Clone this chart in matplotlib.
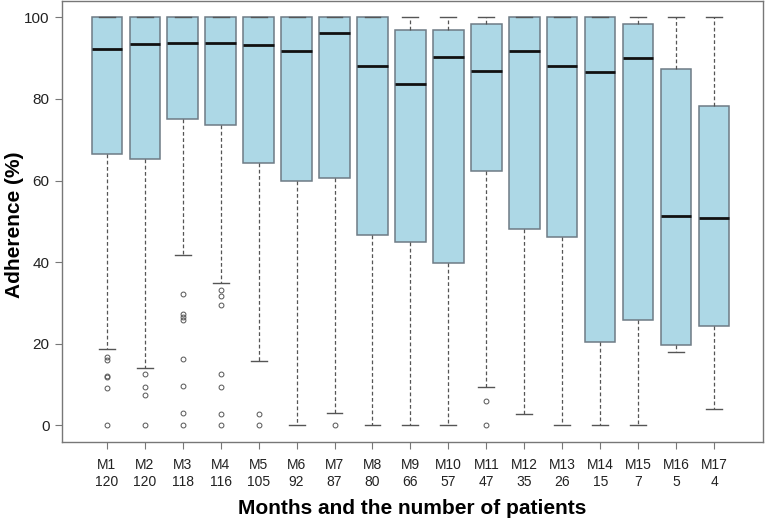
import matplotlib
matplotlib.use("Agg")
import matplotlib.pyplot as plt

plt.rcParams['font.family'] = ['Liberation Sans', 'DejaVu Sans']

months = ["M%d" % i for i in range(1, 18)]
patients = [120, 120, 118, 116, 105, 92, 87, 80, 66, 57, 47, 35, 26, 15, 7, 5, 4]

# (percent)
whislo = [18.6, 14.0, 41.7, 34.8, 15.8, 0, 3.0, 0, 0, 0, 9.4, 2.9, 0, 0, 0, 18.0, 4.1]
q1 = [66.6, 65.4, 75.0, 73.7, 64.4, 59.9, 60.6, 46.6, 45.0, 39.9, 62.3, 48.1, 46.2, 20.5, 25.9, 19.8, 24.4]
med = [92.2, 93.5, 93.6, 93.6, 93.3, 91.7, 96.2, 88.0, 83.6, 90.3, 86.9, 91.7, 88.0, 86.7, 90.0, 51.4, 50.7]
q3 = [100, 100, 100, 100, 100, 100, 100, 100, 96.8, 96.8, 98.4, 100, 100, 100, 98.4, 87.4, 78.2]
whishi = [100] * 17
outliers = [
    [16.7, 16.0, 12.1, 11.8, 9.2, 0],
    [12.7, 9.4, 7.5, 0],
    [32.1, 27.4, 26.5, 25.7, 16.3, 9.7, 3.0, 0],
    [33.2, 31.7, 29.4, 12.7, 9.4, 2.9, 0],
    [2.9, 0],
    [],
    [0],
    [], [], [],
    [6.0, 0],
    [], [], [], [], [], [],
]

stats = []
for i in range(len(months)):
    stats.append(dict(whislo=whislo[i], q1=q1[i], med=med[i], q3=q3[i],
                      whishi=whishi[i], fliers=outliers[i]))

fig = plt.figure(figsize=(7.65, 5.19), dpi=100)
ax = fig.add_axes([0.081, 0.149, 0.916, 0.849])

edge = '#6e7b85'
ax.bxp(stats, positions=range(1, 18), widths=0.8, patch_artist=True,
       boxprops=dict(facecolor='#add8e6', edgecolor=edge, linewidth=1.1),
       medianprops=dict(color='#111111', linewidth=2),
       whiskerprops=dict(color='#555555', linestyle=(0, (3, 2)), linewidth=0.9),
       capprops=dict(color='#555555', linewidth=1.0),
       flierprops=dict(marker='o', markersize=3.5, markerfacecolor='none',
                       markeredgecolor='#555555', markeredgewidth=0.7),
       capwidths=0.42)

ax.set_xlim(-0.18, 18.28)
ax.set_ylim(-4, 104)
ax.set_yticks([0, 20, 40, 60, 80, 100])
ax.set_xticks(range(1, 18))
ax.set_xticklabels(["%s\n%d" % (m, n) for m, n in zip(months, patients)],
                   linespacing=1.25)

for s in ax.spines.values():
    s.set_color('#777777')
    s.set_linewidth(1.0)
ax.tick_params(axis='both', colors='#777777', labelcolor='#222222', length=5)
ax.tick_params(axis='x', labelsize=10, pad=7)
ax.tick_params(axis='y', labelsize=11, pad=4)

# axis titles placed like the original
fig.text(0.539, 1 - 508 / 519, 'Months and the number of patients', fontsize=15,
         fontweight='bold', ha='center', va='center')
fig.text(15 / 765, 1 - 225 / 519, 'Adherence (%)', fontsize=15,
         fontweight='bold', rotation=90, ha='center', va='center')

fig.savefig('out.png', dpi=100)
